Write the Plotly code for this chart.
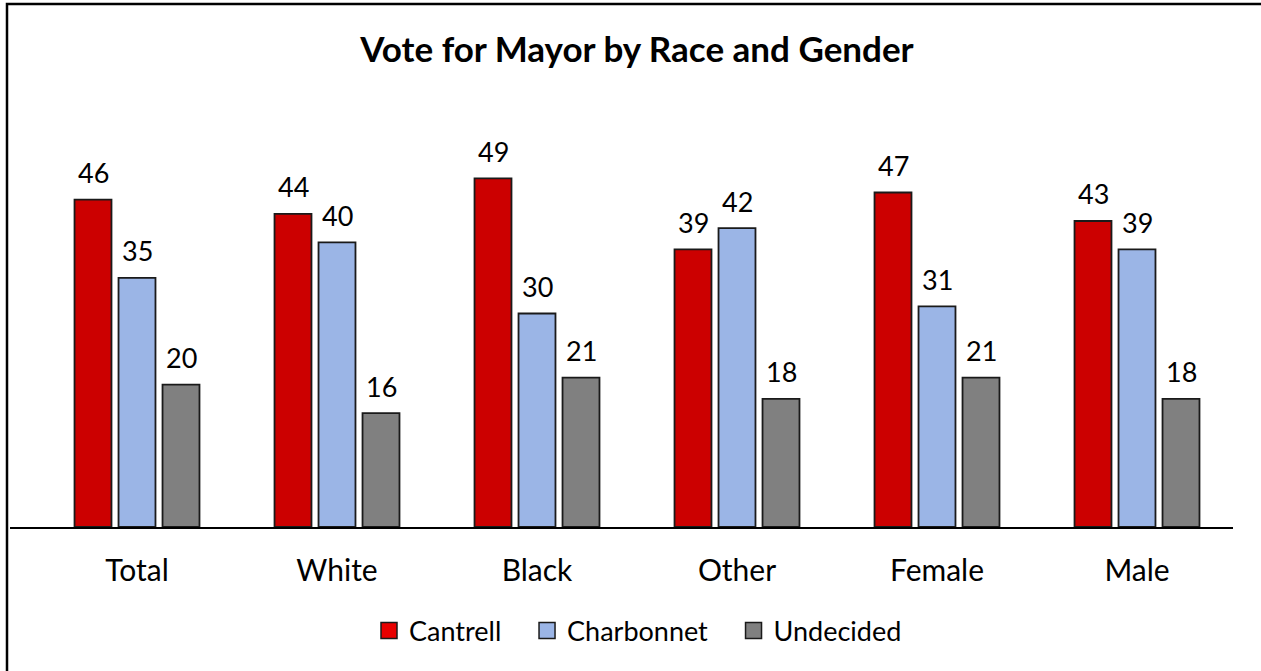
import plotly.graph_objects as go

categories = ["Total", "White", "Black", "Other", "Female", "Male"]
series_names = ["Cantrell", "Charbonnet", "Undecided"]
cantrell = [46, 44, 49, 39, 47, 43]
charbonnet = [35, 40, 30, 42, 31, 39]
undecided = [20, 16, 21, 18, 21, 18]
series_values = [cantrell, charbonnet, undecided]
colors = ["#CC0000", "#9BB5E6", "#808080"]
legend_colors = ["#E80000", "#9BB5E6", "#808080"]

FONT = "Lato"
W, H = 1261, 671
ML, MR, MT, MB = 10, 28, 100, 144
BARGAP = 0.34
GROUPGAP = 0.16
PAD = "\u00a0\u00a0\u00a0"

fig = go.Figure()
for name, vals, col in zip(series_names, series_values, colors):
    fig.add_trace(go.Bar(
        x=list(range(len(categories))), y=vals, name=name, showlegend=False,
        marker=dict(color=col, line=dict(color="#1a1a1a", width=1.8)),
    ))
# legend entries with larger square swatches
for k, (name, col) in enumerate(zip(series_names, legend_colors)):
    fig.add_trace(go.Scatter(
        x=[None], y=[None], mode="markers",
        name=name + (PAD if k < len(series_names) - 1 else ""),
        marker=dict(symbol="square", size=16, color=col,
                    line=dict(color="#1a1a1a", width=1.5)),
    ))

# data labels above each bar, positioned from the group geometry
n = len(series_names)
slot = (1 - BARGAP) / n
annotations = []
for j, vals in enumerate(series_values):
    off = (j - (n - 1) / 2) * slot
    for i, v in enumerate(vals):
        annotations.append(dict(
            x=i + off, y=v, xref="x", yref="y", text=str(v), showarrow=False,
            yanchor="middle", yshift=27,
            font=dict(family=FONT, size=27, color="#000000"),
        ))

pw = W - ML - MR
ph = H - MT - MB
xl = (7 - ML) / pw
yt = 1 + (MT - 4) / ph

fig.update_layout(
    width=W, height=H,
    margin=dict(l=ML, r=MR, t=MT, b=MB),
    paper_bgcolor="white", plot_bgcolor="white",
    barmode="group", bargap=BARGAP, bargroupgap=GROUPGAP,
    title=dict(text="<b>Vote for Mayor by Race and Gender</b>",
               x=637 / W, xref="container", xanchor="center",
               y=1 - 50 / H, yref="container", yanchor="middle",
               font=dict(family=FONT, size=35, color="#000000")),
    xaxis=dict(tickmode="array", tickvals=list(range(len(categories))),
               ticktext=categories, range=[-0.635, 5.48],
               showline=True, linecolor="#000000", linewidth=1.5,
               ticks="outside", ticklen=16, tickcolor="rgba(0,0,0,0)",
               showgrid=False, zeroline=False,
               tickfont=dict(family=FONT, size=30, color="#000000")),
    yaxis=dict(range=[0, 60], visible=False, showgrid=False, zeroline=False),
    showlegend=True,
    legend=dict(orientation="h", x=(638 - ML) / pw, xanchor="center",
                y=-(631 - (H - MB)) / ph, yanchor="middle",
                font=dict(family=FONT, size=27, color="#000000"),
                itemwidth=30, traceorder="normal"),
    annotations=annotations,
    shapes=[dict(type="path", xref="paper", yref="paper",
                 path=f"M {xl} -0.6 L {xl} {yt} L 1.05 {yt}",
                 line=dict(color="#000000", width=2.5))],
)

fig.write_html("out.html", config={"displayModeBar": False},
               post_script="document.body.style.margin='0';document.body.style.padding='0';")
